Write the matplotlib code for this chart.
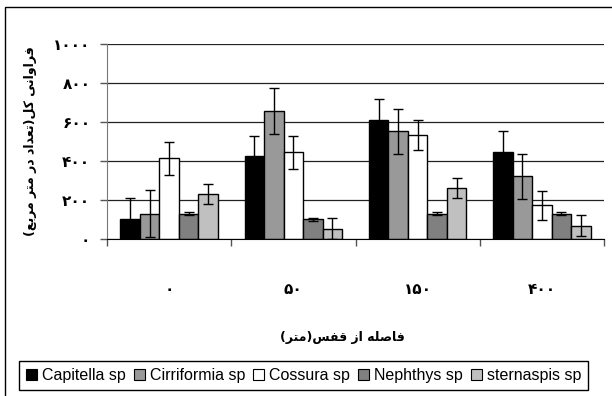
import matplotlib
matplotlib.use("Agg")
import matplotlib.pyplot as plt
from matplotlib.patches import Rectangle, Patch
import numpy as np

# ---------------- data ----------------
categories = ['۰', '۵۰', '۱۵۰', '۴۰۰']
species = ['Capitella sp', 'Cirriformia sp', 'Cossura sp', 'Nephthys sp', 'sternaspis sp']
capitella = [100, 427, 610, 446]
cirriformia = [130, 655, 552, 321]
cossura = [414, 444, 533, 172]
nephthys = [130, 100, 130, 130]
sternaspis = [231, 53, 261, 68]
capitella_err = [110, 100, 110, 110]
cirriformia_err = [120, 117, 115, 116]
cossura_err = [85, 83, 75, 75]
nephthys_err = [8, 10, 8, 8]
sternaspis_err = [52, 53, 53, 53]
ytick_values = [0, 200, 400, 600, 800, 1000]
ytick_labels = ['۰', '۲۰۰', '۴۰۰', '۶۰۰', '۸۰۰', '۱۰۰۰']
ylabel_text = 'فراوانی کل(تعداد در متر مربع)'
xlabel_text = 'فاصله از قفس(متر)'

series = [capitella, cirriformia, cossura, nephthys, sternaspis]
errors = [capitella_err, cirriformia_err, cossura_err, nephthys_err, sternaspis_err]
colors = ['#000000', '#999999', '#FFFFFF', '#808080', '#C0C0C0']

# ------------- minimal Persian shaping (presentation forms + visual order) -------------
FORMS = {
    'ا': ('\uFE8D', '\uFE8E', None, None),
    'ب': ('\uFE8F', '\uFE90', '\uFE91', '\uFE92'),
    'ت': ('\uFE95', '\uFE96', '\uFE97', '\uFE98'),
    'د': ('\uFEA9', '\uFEAA', None, None),
    'ر': ('\uFEAD', '\uFEAE', None, None),
    'ز': ('\uFEAF', '\uFEB0', None, None),
    'س': ('\uFEB1', '\uFEB2', '\uFEB3', '\uFEB4'),
    'ص': ('\uFEB9', '\uFEBA', '\uFEBB', '\uFEBC'),
    'ع': ('\uFEC9', '\uFECA', '\uFECB', '\uFECC'),
    'ف': ('\uFED1', '\uFED2', '\uFED3', '\uFED4'),
    'ق': ('\uFED5', '\uFED6', '\uFED7', '\uFED8'),
    'ل': ('\uFEDD', '\uFEDE', '\uFEDF', '\uFEE0'),
    'م': ('\uFEE1', '\uFEE2', '\uFEE3', '\uFEE4'),
    'ن': ('\uFEE5', '\uFEE6', '\uFEE7', '\uFEE8'),
    'ه': ('\uFEE9', '\uFEEA', '\uFEEB', '\uFEEC'),
    'و': ('\uFEED', '\uFEEE', None, None),
    'ی': ('\uFBFC', '\uFBFD', '\uFBFE', '\uFBFF'),
    'ک': ('\uFB8E', '\uFB8F', '\uFB90', '\uFB91'),
}


def shape(s):
    out = []
    for i, c in enumerate(s):
        if c not in FORMS:
            out.append(c)
            continue
        f = FORMS[c]
        prev = s[i - 1] if i > 0 else ''
        nxt = s[i + 1] if i + 1 < len(s) else ''
        pj = prev in FORMS and FORMS[prev][2] is not None
        nj = f[2] is not None and nxt in FORMS
        if pj and nj:
            g = f[3]
        elif pj:
            g = f[1]
        elif nj:
            g = f[2]
        else:
            g = f[0]
        out.append(g)
    vis = ''.join(reversed(out))
    return vis.translate(str.maketrans('()', ')('))


# ---------------- figure ----------------
W, H = 612, 396
fig = plt.figure(figsize=(W / 100, H / 100), dpi=100)
ax = fig.add_axes([107 / W, 1 - 239 / H, (604 - 107) / W, (239 - 44) / H])

x = np.arange(len(categories))
bw = 0.157
for i, (vals, errs, col) in enumerate(zip(series, errors, colors)):
    pos = x + (i - 2) * bw
    ax.bar(pos, vals, width=bw, color=col, edgecolor='black', linewidth=1.0, zorder=3)
    ax.errorbar(pos, vals, yerr=errs, fmt='none', ecolor='black', elinewidth=1.0,
                capsize=3.3, capthick=1.0, zorder=4)

ax.set_xlim(-0.5, len(categories) - 0.5)
ax.set_ylim(0, 1000)
ax.set_yticks(ytick_values)
ax.set_yticklabels(ytick_labels, fontsize=11, fontweight='bold', family='DejaVu Sans')
ax.yaxis.grid(True, color='#222222', linewidth=0.9, zorder=0)
ax.set_axisbelow(True)

ax.set_xticks(x)
ax.set_xticklabels(categories, fontsize=11, fontweight='bold', family='DejaVu Sans')
ax.set_xticks(np.arange(-0.5, len(categories)), minor=True)
ax.tick_params(axis='x', which='major', length=0, pad=31)
ax.tick_params(axis='x', which='minor', length=5, direction='out', color='#555555', width=1)
ax.tick_params(axis='y', which='major', length=5, direction='out', color='#555555', width=1, pad=7)

for s in ['top', 'right']:
    ax.spines[s].set_visible(False)
ax.spines['left'].set_color('#777777')
ax.spines['bottom'].set_color('black')
ax.spines['bottom'].set_zorder(5)

# axis titles
fig.text(31 / W, 1 - 141 / H, shape(ylabel_text), rotation=90, ha='center', va='center',
         fontsize=9, fontweight='bold', family='DejaVu Sans')
fig.text(342 / W, 1 - 338 / H, shape(xlabel_text), ha='center', va='center',
         fontsize=9, fontweight='bold', family='DejaVu Sans')

# legend
handles = [Patch(facecolor=c, edgecolor='black', linewidth=0.8) for c in colors]
leg = fig.legend(handles, species, loc='center', ncol=5,
                 bbox_to_anchor=((17 + 590) / 2 / W, 1 - (359 + 392) / 2 / H),
                 prop={'family': 'Liberation Sans', 'size': 11.5},
                 handlelength=0.7, handleheight=0.7, handletextpad=0.3,
                 columnspacing=0.5, borderpad=0.42, fancybox=False,
                 edgecolor='black', framealpha=1)
leg.get_frame().set_linewidth(1.0)

# outer chart border
fig.patches.append(Rectangle((5 / W, -0.05), 1.2, (H - 7) / H + 0.05, transform=fig.transFigure,
                             fill=False, edgecolor='black', linewidth=1.0))

fig.savefig('out.png', dpi=100)
